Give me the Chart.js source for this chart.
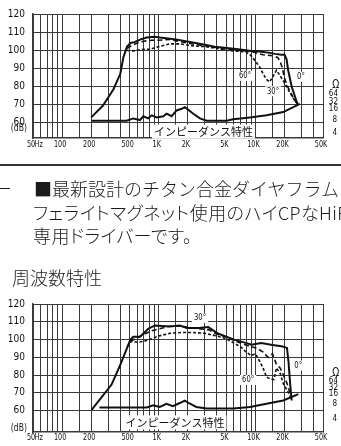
<!DOCTYPE html>
<html lang="ja">
<head>
<meta charset="utf-8">
<script src="https://cdn.jsdelivr.net/npm/chart.js@4"></script>
<style>
  html, body { margin: 0; padding: 0; background: #fff; }
  body { width: 341px; height: 446px; position: relative; overflow: hidden; font-family: "Noto Sans CJK JP", sans-serif; color: #1a1a1a; }
  canvas { position: absolute; left: 0; }
  #c1 { top: 0; }
  #c2 { top: 290px; }
  .t { position: absolute; white-space: nowrap; font-size: 18px; line-height: 24px; font-weight: 300; }
  .p { font-feature-settings: "palt"; letter-spacing: 0.4px; }
  .rule { position: absolute; left: 0; top: 164px; width: 341px; height: 2px; background: #333; }
  .ax { position: absolute; font-family: "Liberation Sans Narrow", "DejaVu Sans Condensed", sans-serif; font-size: 10px; line-height: 10px; color: #111; transform: scaleX(0.85); transform-origin: right center; text-align: right; }
  .om { font-size: 8px; line-height: 8px; transform: none; }
</style>
</head>
<body>
<canvas id="c1" width="341" height="152"></canvas>
<canvas id="c2" width="341" height="156"></canvas>

<div class="ax" style="right:314px;top:123px">(dB)</div>
<div class="ax" style="right:314px;top:423px">(dB)</div>

<div class="ax" style="right:2px;top:78px;font-size:12px;line-height:12px">Ω</div>
<div class="ax om" style="right:3px;top:90px">64</div>
<div class="ax om" style="right:3px;top:98px">32</div>
<div class="ax om" style="right:3px;top:105px">16</div>
<div class="ax om" style="right:4px;top:116px">8</div>
<div class="ax om" style="right:4px;top:129px">4</div>

<div class="ax" style="right:2px;top:366px;font-size:12px;line-height:12px">Ω</div>
<div class="ax om" style="right:3px;top:377px">64</div>
<div class="ax om" style="right:3px;top:383.5px">32</div>
<div class="ax om" style="right:3px;top:389.5px">16</div>
<div class="ax om" style="right:4px;top:400px">8</div>
<div class="ax om" style="right:4px;top:414.5px">4</div>

<div class="rule"></div>
<div class="t" style="left:-6px;top:176px">ー</div>
<div class="t" style="left:34px;top:176px">■最新設計のチタン合金ダイヤフラム</div>
<div class="t p" style="left:33px;top:200px">フェライトマグネット使用のハイCPなHiFi</div>
<div class="t p" style="left:33px;top:223px">専用ドライバーです。</div>
<div class="t" style="left:12px;top:265px">周波数特性</div>

<script>
// grid + tick labels
let freqGrid = [50, 60, 70, 80, 90, 100, 150, 200, 300, 400, 500, 600, 700, 800, 900,
    1000, 1500, 2000, 3000, 4000, 5000, 6000, 7000, 8000, 9000,
    10000, 15000, 20000, 30000, 40000, 50000];
let labelFreqs = [50, 60, 100, 200, 500, 1000, 2000, 5000, 10000, 20000, 50000];
let labelTexts = ['50', 'Hz', '100', '200', '500', '1K', '2K', '5K', '10K', '20K', '50K'];
let dbTicks = [60, 70, 80, 90, 100, 110, 120];

// upper chart
let c1Freq0 = [200, 265, 340, 400, 430, 470, 510, 560, 650, 750, 900, 1030, 1250, 1500, 1900, 2400, 3000, 3800, 4800, 6600, 9100, 11000, 13600, 16000, 18600, 20000, 21000, 21800, 23700, 26700, 27500];
let c1Spl0 = [63, 69.5, 78.5, 87, 96, 102, 104, 104.5, 106, 107, 107.5, 107, 106.5, 106, 105, 104, 103, 102, 101.4, 100.5, 99.6, 99.3, 98.7, 98, 97.5, 97.5, 95, 89, 80, 71.5, 70.5];

let c1Freq30 = [470, 520, 600, 700, 850, 1000, 1300, 1600, 2000, 2500, 3000, 4000, 5000, 6500, 8000, 9500, 11000, 12000, 15000, 17000, 18000, 19000, 20000, 21500, 23000, 25000, 27000];
let c1Spl30 = [101, 102.5, 104, 105, 105.5, 105.5, 106, 105, 104, 103, 102.5, 101.5, 100.5, 100, 99.5, 99, 98, 97.5, 97, 96, 94, 90, 84.5, 80, 77, 73, 70.5];

let c1Freq60 = [470, 520, 600, 700, 800, 1000, 1300, 1700, 2200, 3000, 4000, 5000, 6500, 8000, 9000, 10000, 11000, 12000, 13000, 14000, 15000, 16500, 18000, 20000, 22500, 25000, 27000];
let c1Spl60 = [100, 99.5, 100, 100.5, 100.5, 102, 103.5, 103.5, 102.5, 102, 101, 100, 99.5, 99, 97, 94, 91, 87, 84, 82.5, 85, 89, 86, 82, 77, 73, 71];

let c1FreqZ = [202, 465, 545, 640, 691, 778, 845, 951, 1114, 1206, 1358, 1530, 1725, 1866, 2020, 2274, 2667, 3127, 5036, 5893, 8770, 13050, 19400, 28800];
let c1Imp = [61.1, 61.1, 62.4, 61.5, 63.6, 62.4, 64.1, 62.9, 63.6, 65, 63.6, 66.8, 67.7, 68.6, 67.2, 65, 62.4, 61.1, 61.1, 61.9, 62.9, 64.1, 65.9, 70.4];

// lower chart
let c2Freq0 = [202, 325, 397, 508, 545, 640, 778, 910, 1300, 1650, 1950, 2600, 3250, 4100, 6100, 8100, 9100, 11500, 15000, 18600, 21200, 22000, 22900, 23700];
let c2Spl0 = [60.4, 74.7, 85.4, 99.8, 101.6, 101.6, 106.1, 107.9, 107.4, 107.9, 106.5, 106.5, 107, 103.4, 99.8, 98, 97.1, 98, 97, 96.2, 95.3, 87.3, 74.7, 65.7];

let c2Freq30 = [508, 600, 700, 850, 1000, 1300, 1700, 2200, 2700, 3300, 4000, 5000, 6000, 7500, 9000, 10500, 12000, 13500, 15000, 16500, 18000, 19500, 21000, 22500, 23500];
let c2Spl30 = [99, 101, 103, 105, 106, 107.5, 107.5, 106.5, 106, 105.5, 103, 101.5, 99.5, 97.5, 96, 95, 93, 90, 92, 86, 84, 80, 76, 71, 67];

let c2Freq60 = [470, 520, 600, 700, 850, 1000, 1300, 1700, 2200, 3000, 4000, 5000, 6000, 7000, 8000, 9000, 10000, 11000, 12000, 13000, 14000, 15500, 16500, 18000, 19500, 21000, 22500, 23500];
let c2Spl60 = [96, 99, 98.5, 99, 100.5, 102, 103.5, 104, 104, 103.5, 102, 100.5, 98, 96, 93, 91, 92, 88, 84, 79, 78, 77.5, 84, 81, 75, 72, 69, 66];

let c2FreqZ = [243, 750, 877, 1025, 1200, 1400, 1650, 1860, 2100, 2450, 3130, 5900, 8800, 13000, 19400, 27800];
let c2Imp = [61.8, 61.8, 63, 62.1, 63.9, 62.5, 64.3, 65.7, 63.9, 62.1, 61.2, 61.2, 62.1, 63.9, 65.7, 69.3];

let ink = '#111';
let gridColor = '#3a3a3a';
let narrow = '"Liberation Sans Narrow", "DejaVu Sans Condensed", sans-serif';

function toPoints(freq, level){
    return freq.map((f, i) => ({x: f, y: level[i]}));
}

function line(freq, level, dash, width){
    return {
        data: toPoints(freq, level),
        borderColor: ink,
        borderWidth: width,
        borderDash: dash,
        pointRadius: 0,
        tension: 0,
        fill: false
    };
}

// angle marks, impedance caption and the squeezed frequency labels
function notesPlugin(notes, xPad){
    return {
        id: 'notes',
        beforeDatasetsDraw(chart){
            let ctx = chart.ctx;
            let xs = chart.scales.x, ys = chart.scales.y;
            ctx.save();
            notes.forEach(n => {
                let px = xs.getPixelForValue(n.f);
                let py = ys.getPixelForValue(n.db);
                ctx.font = n.font;
                let w = ctx.measureText(n.text).width * n.sx + 4;
                ctx.fillStyle = '#fff';
                ctx.fillRect(px - w / 2, py - n.h / 2, w, n.h);
                ctx.fillStyle = ink;
                ctx.textAlign = 'center';
                ctx.textBaseline = 'middle';
                ctx.setTransform(n.sx, 0, 0, 1, px, py);
                ctx.fillText(n.text, 0, 0);
                ctx.setTransform(1, 0, 0, 1, 0, 0);
            });
            ctx.restore();
        },
        afterDraw(chart){
            let ctx = chart.ctx;
            let xs = chart.scales.x;
            ctx.save();
            ctx.font = '9px ' + narrow;
            ctx.fillStyle = ink;
            ctx.textAlign = 'center';
            ctx.textBaseline = 'top';
            labelFreqs.forEach((f, i) => {
                let px = xs.getPixelForValue(f) - 2;
                ctx.setTransform(0.8, 0, 0, 1, px, chart.chartArea.bottom + xPad);
                ctx.fillText(labelTexts[i], 0, 0);
            });
            ctx.restore();
        }
    };
}

function makeChart(id, datasets, yMin, topPad, xHeight, xPad, notes){
    return new Chart(document.getElementById(id), {
        type: 'line',
        data: {datasets: datasets},
        options: {
            responsive: false,
            animation: false,
            devicePixelRatio: 1,
            layout: {padding: {top: topPad, right: 18, left: 0, bottom: 0}},
            plugins: {legend: {display: false}, tooltip: {enabled: false}},
            scales: {
                x: {
                    type: 'logarithmic',
                    min: 50,
                    max: 50000,
                    afterBuildTicks: s => { s.ticks = freqGrid.map(v => ({value: v})); },
                    afterFit: s => { s.height = xHeight; },
                    grid: {color: gridColor, lineWidth: 1, drawTicks: false},
                    border: {display: true, color: gridColor, width: 1.5},
                    ticks: {display: false}
                },
                y: {
                    type: 'linear',
                    min: yMin,
                    max: 120,
                    afterBuildTicks: s => { s.ticks = dbTicks.map(v => ({value: v})); },
                    afterFit: s => { s.width = 33; },
                    grid: {color: gridColor, lineWidth: 1, drawTicks: false},
                    border: {display: true, color: gridColor, width: 1.5},
                    ticks: {padding: 8, color: ink, font: {family: narrow, size: 10}}
                }
            }
        },
        plugins: [notesPlugin(notes, xPad)]
    });
}

let degFont = '9px ' + narrow;
let capFont = '11px "Noto Sans CJK JP", sans-serif';

makeChart('c1', [
    line(c1Freq0, c1Spl0, [], 2),
    line(c1Freq30, c1Spl30, [5, 3], 1.6),
    line(c1Freq60, c1Spl60, [3, 2], 1.6),
    line(c1FreqZ, c1Imp, [], 2)
], 51.6, 10, 13.5, 2, [
    {text: '60°', f: 7800, db: 85.9, font: degFont, sx: 0.85, h: 10},
    {text: '30°', f: 15200, db: 77.4, font: degFont, sx: 0.85, h: 10},
    {text: '0°', f: 29600, db: 85.4, font: degFont, sx: 0.85, h: 10},
    {text: 'インピーダンス特性', f: 2900, db: 55.1, font: capFont, sx: 1, h: 14}
]);

makeChart('c2', [
    line(c2Freq0, c2Spl0, [], 2),
    line(c2Freq30, c2Spl30, [5, 3], 1.6),
    line(c2Freq60, c2Spl60, [3, 2], 1.6),
    line(c2FreqZ, c2Imp, [], 2)
], 48, 12.5, 10, 1, [
    {text: '30°', f: 2670, db: 112.2, font: degFont, sx: 0.85, h: 10},
    {text: '0°', f: 27700, db: 85.4, font: degFont, sx: 0.85, h: 10},
    {text: '60°', f: 8400, db: 77.3, font: degFont, sx: 0.85, h: 10},
    {text: 'インピーダンス特性', f: 1470, db: 53.4, font: capFont, sx: 1, h: 14}
]);
</script>
</body>
</html>
